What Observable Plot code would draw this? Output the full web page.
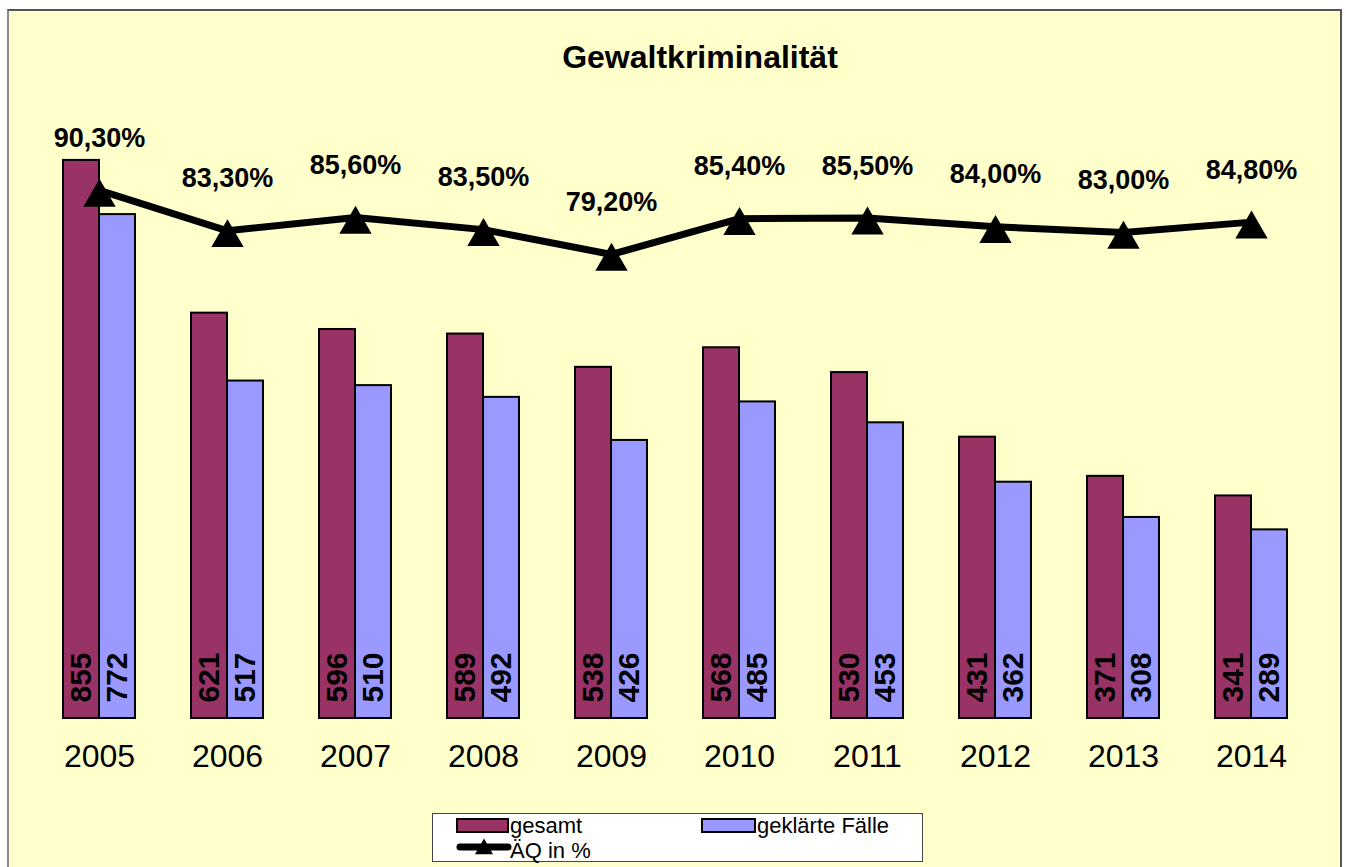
<!DOCTYPE html>
<html>
<head>
<meta charset="utf-8">
<script src="https://cdn.jsdelivr.net/npm/d3@7"></script>
<script src="https://cdn.jsdelivr.net/npm/@observablehq/plot@0.6"></script>
<style>
  html, body { margin: 0; padding: 0; background: #ffffff; }
  #wrap { position: relative; width: 1346px; height: 867px; overflow: hidden; font-family: "Liberation Sans", Arial, sans-serif; }
  #frame { position: absolute; left: 7px; top: 9px; width: 1331px; height: 880px; background: #FFFFCC;
           border-left: 2px solid #8a8a8a; border-top: 2px solid #555; border-right: 2px solid #555; }
  #title { position: absolute; left: 0; width: 1400px; top: 41px; text-align: center; font-size: 32px; line-height: 32px;
           font-weight: bold; color: #000; }
  #chart { position: absolute; left: 0; top: 0; }
  #legend { position: absolute; left: 432px; top: 813px; }
</style>
</head>
<body>
<div id="wrap">
  <div id="frame"></div>
  <div id="title">Gewaltkriminalität</div>
  <div id="chart"></div>
  <div id="legend"></div>
</div>
<script>
// ---- data ----
const years = ["2005","2006","2007","2008","2009","2010","2011","2012","2013","2014"];
const gesamt = [855, 621, 596, 589, 538, 568, 530, 431, 371, 341];
const geklaert = [772, 517, 510, 492, 426, 485, 453, 362, 308, 289];
const aq = [90.3, 83.3, 85.6, 83.5, 79.2, 85.4, 85.5, 84.0, 83.0, 84.8];
const seriesNames = ["gesamt", "geklärte Fälle", "ÄQ in %"];

const colGesamt = "#993366";
const colGeklaert = "#9999FF";

const rows = years.map((y, i) => ({year: y, gesamt: gesamt[i], geklaert: geklaert[i], aq: aq[i]}));

// secondary axis (AQ %) mapped onto primary bar domain
const yMax = 1100;
const aqScale = d3.scaleLinear([-1.2, 123.2], [0, yMax]);
const fmtPct = v => v.toFixed(2).replace(".", ",") + "%";

const half = 36;

const plot = Plot.plot({
  width: 1346,
  height: 867,
  marginTop: 0,
  marginBottom: 149,
  marginLeft: 32.8,
  marginRight: 29.9,
  style: {background: "transparent", fontFamily: "'Liberation Sans', Arial, sans-serif", overflow: "visible"},
  x: {domain: years, paddingInner: 0.439, paddingOuter: 0.2195, label: null},
  y: {domain: [0, yMax], axis: null},
  marks: [
    Plot.barY(rows, {x: "year", y: "gesamt", fill: colGesamt, stroke: "#000", strokeWidth: 2, insetRight: half}),
    Plot.barY(rows, {x: "year", y: "geklaert", fill: colGeklaert, stroke: "#000", strokeWidth: 2, insetLeft: half}),
    Plot.text(rows, {x: "year", y: 0, text: d => String(d.gesamt), rotate: -90, textAnchor: "start", dx: -half/2, dy: -16,
      fontSize: 30, fontWeight: "bold", fill: "#000"}),
    Plot.text(rows, {x: "year", y: 0, text: d => String(d.geklaert), rotate: -90, textAnchor: "start", dx: half/2, dy: -16,
      fontSize: 30, fontWeight: "bold", fill: "#000"}),
    Plot.lineY(rows, {x: "year", y: d => aqScale(d.aq), stroke: "#000", strokeWidth: 7}),
    Plot.dot(rows, {x: "year", y: d => aqScale(d.aq), symbol: "triangle", r: 12, fill: "#000", stroke: "none", dy: 7}),
    Plot.text(rows, {x: "year", y: d => aqScale(d.aq), text: d => fmtPct(d.aq), dy: -52, fontSize: 27, fontWeight: "bold", fill: "#000"}),
    Plot.axisX({tickSize: 0, tickPadding: 26, fontSize: 32, fill: "#000", label: null})
  ]
});
document.getElementById("chart").appendChild(plot);

// ---- legend ----
const lg = d3.select("#legend").append("svg").attr("width", 492).attr("height", 50)
  .style("font-family", "'Liberation Sans', Arial, sans-serif");
lg.append("rect").attr("x", 0.5).attr("y", 0.5).attr("width", 490).attr("height", 48)
  .attr("fill", "#fff").attr("stroke", "#444").attr("stroke-width", 1);
lg.append("rect").attr("x", 25).attr("y", 6).attr("width", 51).attr("height", 13)
  .attr("fill", colGesamt).attr("stroke", "#000").attr("stroke-width", 2);
lg.append("text").attr("x", 78).attr("y", 20).attr("font-size", 22).text(seriesNames[0]);
lg.append("rect").attr("x", 270).attr("y", 6).attr("width", 53).attr("height", 13)
  .attr("fill", colGeklaert).attr("stroke", "#000").attr("stroke-width", 2);
lg.append("text").attr("x", 325).attr("y", 20).attr("font-size", 22).text(seriesNames[1]);
lg.append("line").attr("x1", 28).attr("x2", 76).attr("y1", 34).attr("y2", 34)
  .attr("stroke", "#000").attr("stroke-width", 7).attr("stroke-linecap", "round");
lg.append("path").attr("d", d3.symbol(d3.symbolTriangle, 140)()).attr("transform", "translate(52,36)").attr("fill", "#000");
lg.append("text").attr("x", 78).attr("y", 45).attr("font-size", 22).text(seriesNames[2]);
</script>
</body>
</html>
